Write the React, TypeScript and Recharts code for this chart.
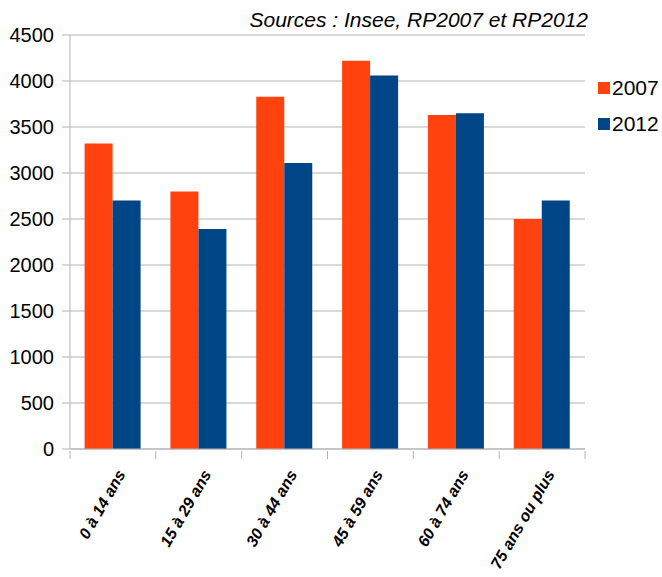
import { BarChart, Bar, XAxis, YAxis, CartesianGrid, Legend } from 'recharts';

const ageGroups = ['0 à 14 ans', '15 à 29 ans', '30 à 44 ans', '45 à 59 ans', '60 à 74 ans', '75 ans ou plus'];
const pop2007 = [3320, 2800, 3830, 4220, 3630, 2500];
const pop2012 = [2700, 2390, 3110, 4060, 3650, 2700];
const yTicks = [0, 500, 1000, 1500, 2000, 2500, 3000, 3500, 4000, 4500];

const data = ageGroups.map((name, i) => ({ name, y2007: pop2007[i], y2012: pop2012[i] }));

const FONT = '"Liberation Sans", Arial, sans-serif';
const GRID = '#b3b3b3';
const BAND = (585 - 70) / ageGroups.length;
const LEGEND_W = 64;

// category labels rotated, with tick marks drawn on the band edges
function AgeTick(props: any) {
  const { x, y, payload, index } = props;
  const left = x - BAND / 2;
  const right = x + BAND / 2;
  const tx = x + 13;
  const ty = y + 15;
  return (
    <g>
      <line x1={left} y1={y - 8} x2={left} y2={y} stroke={GRID} />
      {index === ageGroups.length - 1 && <line x1={right} y1={y - 8} x2={right} y2={y} stroke={GRID} />}
      <text
        x={tx}
        y={ty}
        textAnchor="end"
        transform={`rotate(-60 ${tx} ${ty})`}
        fontFamily={FONT}
        fontSize={16}
        fontWeight="bold"
        fontStyle="italic"
        fill="#000"
      >
        {payload.value}
      </text>
    </g>
  );
}

function LegendBox(props: any) {
  const { payload } = props;
  return (
    <div style={{ fontFamily: FONT, fontSize: 21, width: LEGEND_W }}>
      {payload.map((p: any) => (
        <div key={p.value} style={{ display: 'flex', alignItems: 'center', height: 36 }}>
          <span style={{ width: 12, height: 12, background: p.color, marginRight: 2, flex: 'none' }} />
          <span>{p.value}</span>
        </div>
      ))}
    </div>
  );
}

export default function App() {
  return (
    <div style={{ position: 'absolute', left: 0, top: 0, width: 662, height: 577, background: '#fff' }}>
      <div
        style={{
          position: 'absolute',
          right: 662 - 588,
          top: 8,
          fontFamily: FONT,
          fontStyle: 'italic',
          fontSize: 21,
          whiteSpace: 'nowrap',
          zIndex: 2,
        }}
      >
        Sources : Insee, RP2007 et RP2012
      </div>
      <BarChart
        width={662}
        height={577}
        data={data}
        margin={{ top: 35, right: 77 - LEGEND_W, left: 0, bottom: 0 }}
        barCategoryGap="17%"
        barGap={0}
      >
        <CartesianGrid vertical={false} stroke={GRID} />
        <XAxis
          dataKey="name"
          height={128}
          axisLine={{ stroke: GRID }}
          tickLine={false}
          tickSize={8}
          tick={<AgeTick />}
          interval={0}
        />
        <YAxis
          width={70}
          domain={[0, 4500]}
          ticks={yTicks}
          axisLine={{ stroke: GRID }}
          tickLine={{ stroke: GRID }}
          tickSize={8}
          tickMargin={8}
          tick={{ fontFamily: FONT, fontSize: 20, fill: '#000' }}
        />
        <YAxis yAxisId="r" orientation="right" width={0} domain={[0, 4500]} tick={false} tickLine={false} axisLine={{ stroke: GRID }} />
        <Legend
          layout="vertical"
          align="right"
          verticalAlign="top"
          content={<LegendBox />}
          wrapperStyle={{ left: 598, top: 70, width: LEGEND_W }}
        />
        <Bar dataKey="y2007" name="2007" fill="#ff420e" isAnimationActive={false} />
        <Bar dataKey="y2012" name="2012" fill="#004586" isAnimationActive={false} />
      </BarChart>
    </div>
  );
}
